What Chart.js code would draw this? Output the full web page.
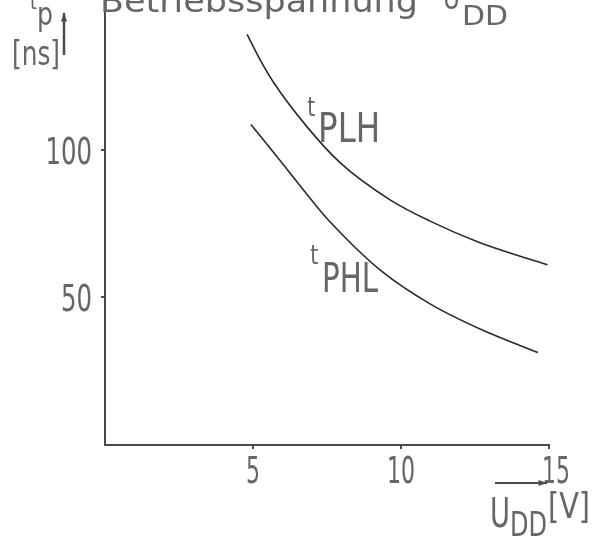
<!DOCTYPE html>
<html>
<head>
<meta charset="utf-8">
<script src="https://cdn.jsdelivr.net/npm/chart.js@4.4.1/dist/chart.umd.min.js"></script>
<style>
  html, body { margin: 0; padding: 0; background: #fff; }
  #wrap { width: 597px; height: 537px; }
</style>
</head>
<body>
<div id="wrap"><canvas id="chart"></canvas></div>
<script>
// supply voltage U_DD [V] and propagation delay t_p [ns]
const xTicks = [5, 10, 15];
const yTicks = [50, 100];
const plhVolt = [4.8, 5.21, 5.68, 6.82, 7.94, 9.63, 10.98, 12.67, 14.95];
const plhTime = [139, 131, 123, 107.8, 95.6, 83, 75.8, 68.5, 61];
const phlVolt = [4.93, 5.9, 7.16, 7.6, 9.29, 10.98, 12.67, 14.63];
const phlTime = [108.5, 96.5, 80.7, 75.6, 59.3, 47.8, 39.3, 31.3];

const FONT = '"DejaVu Sans Condensed", sans-serif';
const INK = '#4a4a4a';
const TEXT = '#666';

function fitText(ctx, str, x, base, width, size) {
  ctx.font = size + 'px ' + FONT;
  const w = ctx.measureText(str).width;
  ctx.save();
  ctx.translate(x, base);
  ctx.scale(width / w, 1);
  ctx.fillText(str, 0, 0);
  ctx.restore();
}

function arrow(ctx, x1, y1, x2, y2) {
  const a = Math.atan2(y2 - y1, x2 - x1);
  ctx.beginPath();
  ctx.moveTo(x1, y1);
  ctx.lineTo(x2, y2);
  ctx.stroke();
  ctx.beginPath();
  ctx.moveTo(x2, y2);
  ctx.lineTo(x2 - 9 * Math.cos(a - 0.35), y2 - 9 * Math.sin(a - 0.35));
  ctx.lineTo(x2 - 9 * Math.cos(a + 0.35), y2 - 9 * Math.sin(a + 0.35));
  ctx.closePath();
  ctx.fill();
}

const labels = {
  id: 'labels',
  afterDraw(chart) {
    const ctx = chart.ctx;
    const sx = chart.scales.x, sy = chart.scales.y;
    ctx.save();
    ctx.fillStyle = TEXT;
    ctx.strokeStyle = INK;
    ctx.textBaseline = 'alphabetic';
    ctx.textAlign = 'left';

    // tick labels, narrow like the stencil lettering of the scan
    sx.ticks.forEach((t, i) => {
      const s = String(t.value), w = s.length * 14;
      const nudge = i === sx.ticks.length - 1 ? 7 : 0;
      fitText(ctx, s, sx.getPixelForValue(t.value) - w / 2 + nudge, 483, w, 38);
    });
    sy.ticks.forEach(t => {
      const s = String(t.value), w = s.length * 15.5;
      fitText(ctx, s, 92 - w, sy.getPixelForValue(t.value) + 14, w, 38);
    });

    // title, cut off by the top edge of the scan
    fitText(ctx, 'Betriebsspannung', 100, 12, 318, 32);
    fitText(ctx, 'U', 443, 9, 17, 32);
    fitText(ctx, 'DD', 462, 25, 46, 26);

    // curve labels
    const px = v => sx.getPixelForValue(v), py = v => sy.getPixelForValue(v);
    fitText(ctx, 't', px(6.83), py(111.5), 8, 26);
    fitText(ctx, 'PLH', px(7.2), py(102.7), 62, 41);
    fitText(ctx, 't', px(6.93), py(61.3), 8, 26);
    fitText(ctx, 'PHL', px(7.33), py(51.9), 56, 41);

    // y axis name
    fitText(ctx, 't', 30, 9, 7, 22);
    fitText(ctx, 'p', 37, 25, 16, 32);
    fitText(ctx, '[ns]', 12, 65, 48, 34);
    ctx.fillStyle = INK;
    ctx.lineWidth = 2.5;
    arrow(ctx, 64, 55, 64, 13);

    // x axis name
    ctx.lineWidth = 2;
    arrow(ctx, 495, 483, 547, 483);
    ctx.fillStyle = TEXT;
    fitText(ctx, 'U', 490, 527, 20, 40);
    fitText(ctx, 'DD', 510, 536, 37, 34);
    fitText(ctx, '[V]', 548, 518, 42, 36);
    ctx.restore();
  }
};

const line = (vs, ts) => vs.map((v, i) => ({ x: v, y: ts[i] }));

new Chart(document.getElementById('chart'), {
  type: 'line',
  data: {
    datasets: [
      { label: 'tPLH', data: line(plhVolt, plhTime), borderColor: '#2a2a2a', borderWidth: 1.6,
        pointRadius: 0, cubicInterpolationMode: 'monotone' },
      { label: 'tPHL', data: line(phlVolt, phlTime), borderColor: '#2a2a2a', borderWidth: 1.6,
        pointRadius: 0, cubicInterpolationMode: 'monotone' }
    ]
  },
  options: {
    responsive: true,
    maintainAspectRatio: false,
    animation: false,
    layout: { padding: { left: 0, top: 2, right: 48, bottom: 0 } },
    plugins: { legend: { display: false }, tooltip: { enabled: false } },
    scales: {
      x: {
        type: 'linear', min: 0, max: 15,
        afterBuildTicks: s => { s.ticks = xTicks.map(v => ({ value: v })); },
        afterFit: s => { s.height = 92; s.paddingLeft = 0; s.paddingRight = 0; },
        grid: { drawOnChartArea: false, tickLength: 4, color: INK, lineWidth: 2 },
        border: { color: INK, width: 2 },
        ticks: { display: false }
      },
      y: {
        type: 'linear', min: 0, max: 150,
        afterBuildTicks: s => { s.ticks = yTicks.map(v => ({ value: v })); },
        afterFit: s => { s.width = 105; s.paddingTop = 0; s.paddingBottom = 0; },
        grid: { drawOnChartArea: false, tickLength: 4, color: INK, lineWidth: 2 },
        border: { color: INK, width: 2 },
        ticks: { display: false }
      }
    }
  },
  plugins: [labels]
});
</script>
</body>
</html>
